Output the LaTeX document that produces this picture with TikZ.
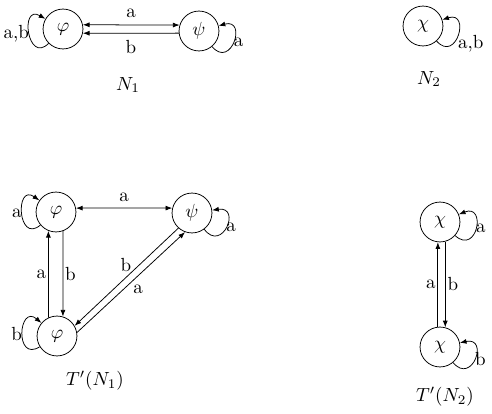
\documentclass[tikz,border=0pt]{standalone}
\usetikzlibrary{arrows.meta}
\begin{document}
\begin{tikzpicture}[x=0.0185cm, y=0.0185cm,
	estado/.style={circle, draw, minimum size=21pt, inner sep=0pt},
	>={Latex[length=3.5pt,width=2.6pt]}]
	\useasboundingbox (0,0) rectangle (492,414);
	
	% Automata N_1
	\node[estado] (phiA) at (63,385) {$\varphi$};
	\node[estado] (psiA) at (199,383) {$\psi$};
	\node (nA) at (128,329) {$N_1$};
	\draw[<->] (phiA.12) -- node[above] {a} (psiA.163);
	\draw[->] (psiA.186) -- node[below] {b} (phiA.-12);
	\draw[->] (phiA.225) .. controls +(225:30) and +(150:30) .. node[left, inner sep=0pt] {a,b} (phiA.150);
	\draw[->] (psiA.-50) .. controls +(-50:30) and +(15:30) .. node[right, inner sep=0pt] {a} (psiA.15);
	
	% Automata N_2
	\node[estado] (chiA) at (423,388) {$\chi$};
	\node (nB) at (429,335) {$N_2$};
	\draw[->] (chiA.-48) .. controls +(-48:30) and +(18:30) .. node[below right, inner sep=0pt] {a,b} (chiA.18);
	
	% T'(N_1)
	\node[estado] (phiB) at (56,202) {$\varphi$};
	\node[estado] (psiB) at (192,201) {$\psi$};
	\node[estado] (phiC) at (57,78) {$\varphi$};
	\node (tA) at (95,33) {$T'(N_1)$};
	\draw[<->] (phiB.11) -- node[above] {a} (psiB.166);
	\draw[->] (phiC.115) -- node[left, inner sep=1pt] {a} (phiB.248);
	\draw[->] (phiB.290) -- node[right, inner sep=1pt] {b} (phiC.73);
	\draw[->] (psiB.228) -- node[above left, inner sep=0pt, pos=.45] {b} (phiC.30);
	\draw[->] (phiC.10) -- node[below right, inner sep=1pt] {a} (psiB.250);
	\draw[->] (phiB.220) .. controls +(220:30) and +(145:30) .. node[left, inner sep=0pt] {a} (phiB.145);
	\draw[->] (psiB.-53) .. controls +(-53:30) and +(8:30) .. node[right, inner sep=0pt] {a} (psiB.8);
	\draw[->] (phiC.212) .. controls +(212:30) and +(140:30) .. node[left, inner sep=0pt] {b} (phiC.140);
	
	% T'(N_2)
	\node[estado] (chiB) at (440,192) {$\chi$};
	\node[estado] (chiC) at (440,67) {$\chi$};
	\node (tB) at (445,17) {$T'(N_2)$};
	\draw[->] (chiC.96) -- node[left, inner sep=1pt] {a} (chiB.264);
	\draw[->] (chiB.285) -- node[right, inner sep=1pt] {b} (chiC.75);
	\draw[->] (chiB.-42) .. controls +(-42:30) and +(22:30) .. node[right, inner sep=0pt] {a} (chiB.22);
	\draw[->] (chiC.-50) .. controls +(-50:30) and +(12:30) .. node[right, inner sep=0pt] {b} (chiC.12);
\end{tikzpicture}
\end{document}
